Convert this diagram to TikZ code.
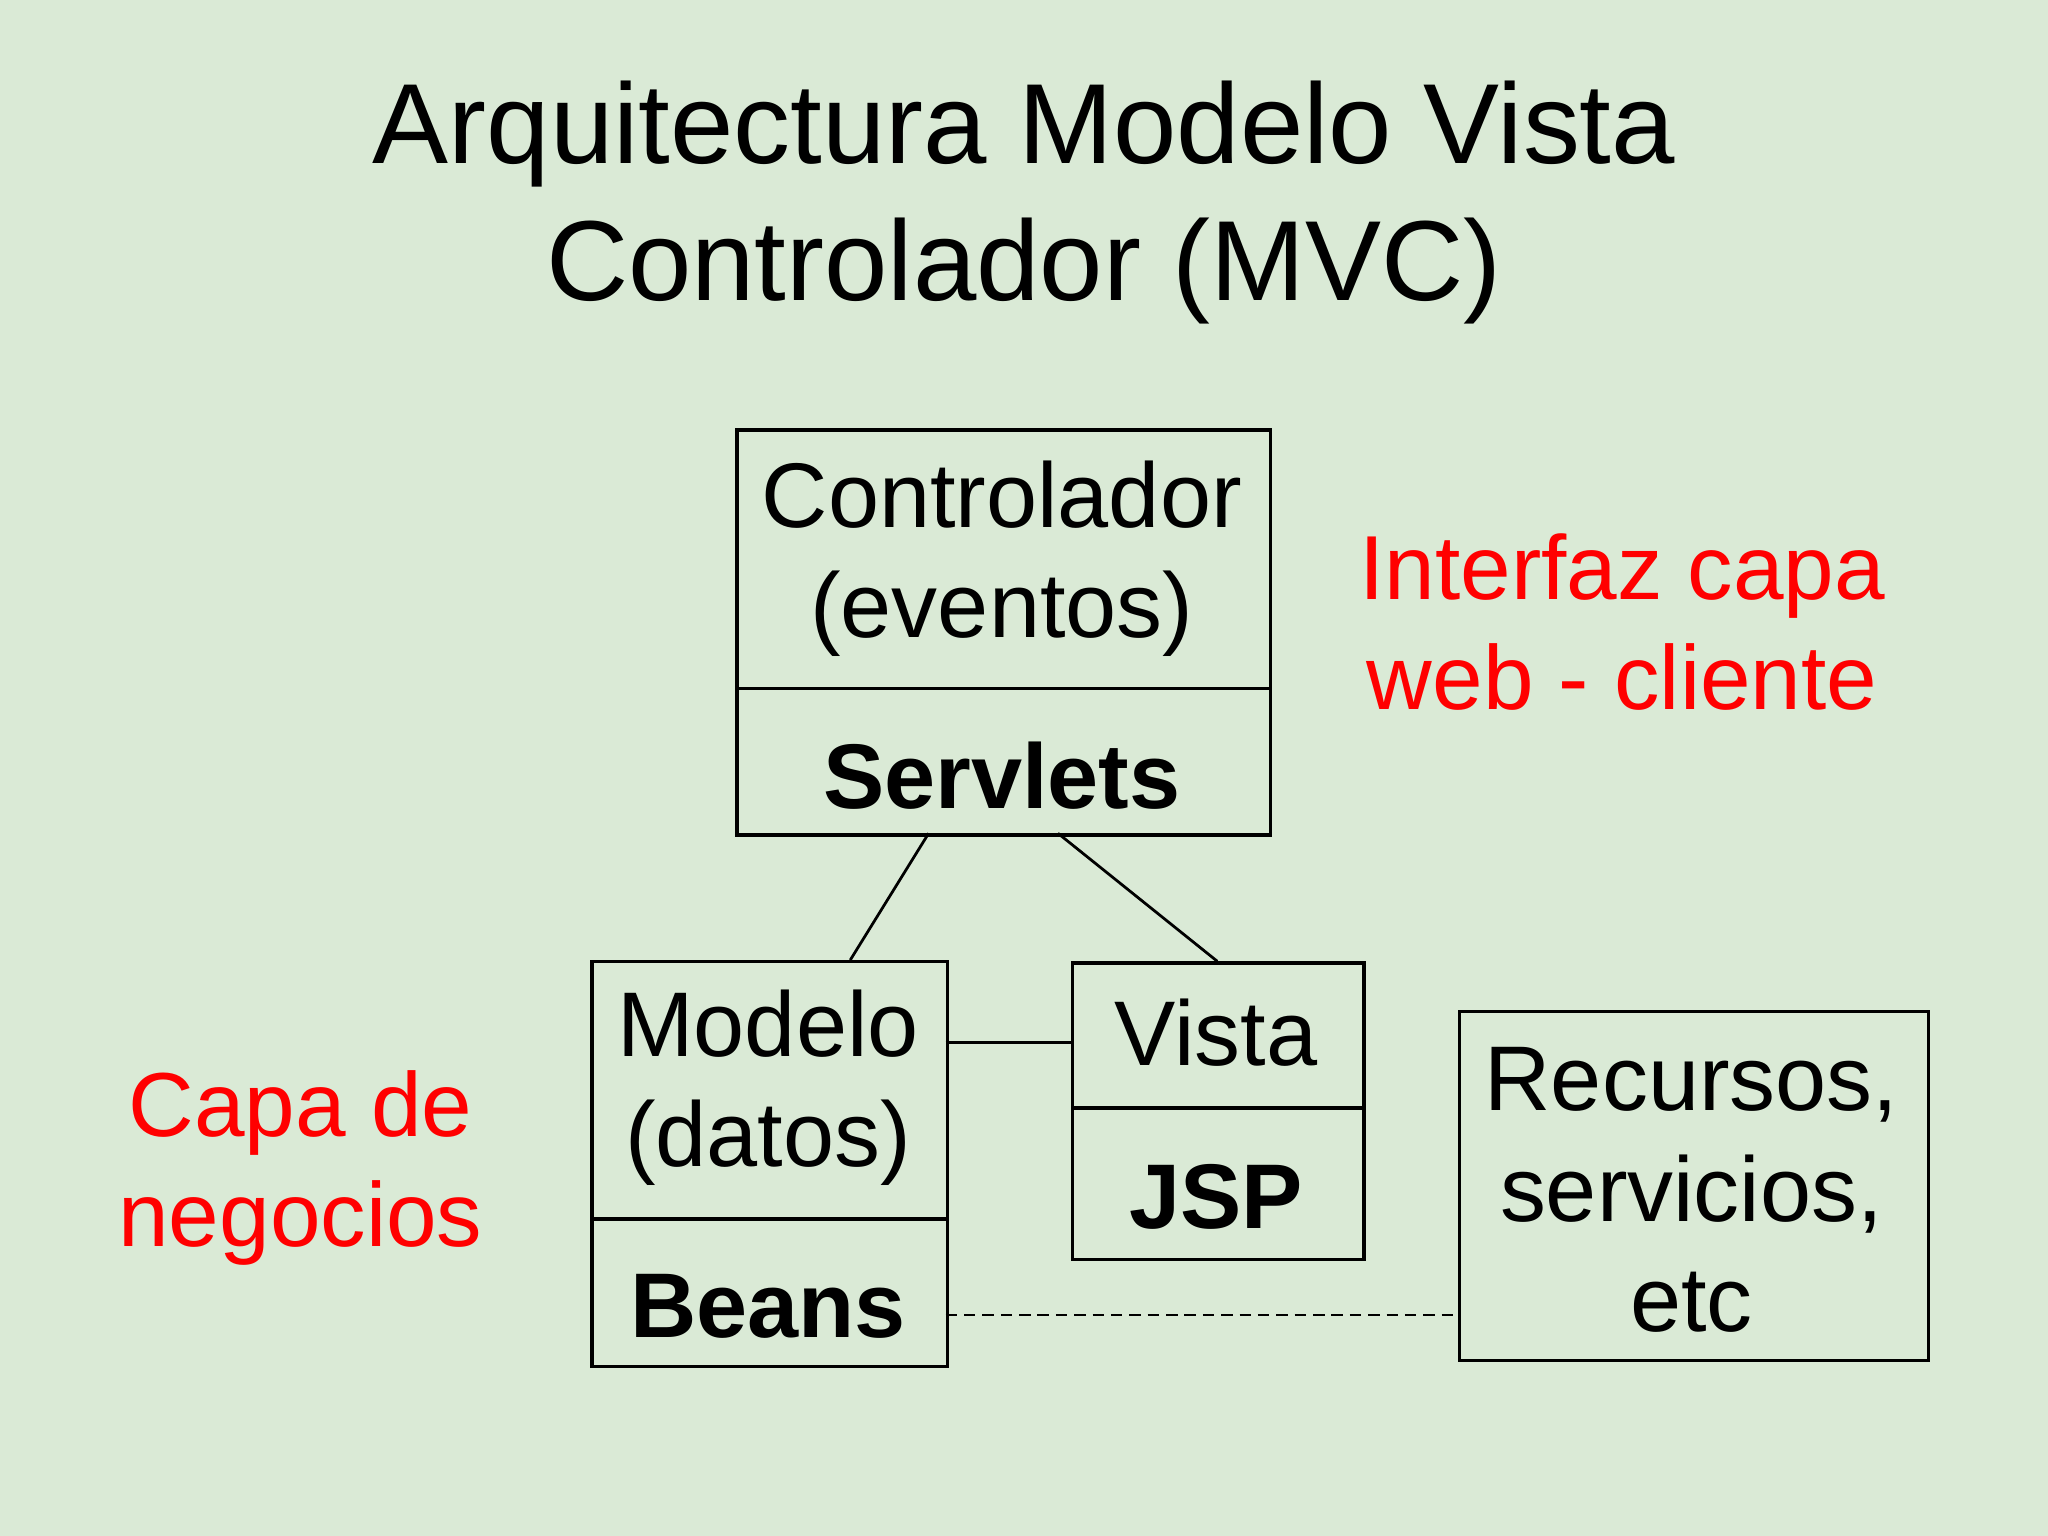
\documentclass[tikz,border=0pt]{standalone}
\usepackage{fontspec}
\setmainfont{Liberation Sans}
\begin{document}
\begin{tikzpicture}[x=0.01cm,y=-0.01cm,
  box/.style={draw,line width=0.7pt,anchor=north west,inner sep=0pt},
  lbl/.style={font=\fontsize{20}{24}\selectfont,align=center},
  blbl/.style={font=\fontsize{20}{24}\selectfont\bfseries},
  red/.style={font=\fontsize{19.8}{24}\selectfont,align=center,text=red}]
\fill[fill={rgb,255:red,218;green,234;blue,214}] (0,0) rectangle (1568,1176);
\useasboundingbox (0,0) rectangle (1568,1176);
\node[font=\fontsize{24.8}{29.8}\selectfont,align=center] (title) at (784,155) {Arquitectura Modelo Vista\\Controlador (MVC)};
% controller
\node[box,minimum width=4.08cm,minimum height=1.98cm] (ctop) at (563,328) {};
\node[box,minimum width=4.08cm,minimum height=1.12cm] (cbot) at (563,526) {};
\node[lbl] (ct) at (767,428) {Controlador\\(eventos)};
\node[blbl] (cb) at (767,594) {Servlets};
% model
\node[box,minimum width=2.72cm,minimum height=1.97cm] (mtop) at (452,735) {};
\node[box,minimum width=2.72cm,minimum height=1.13cm] (mbot) at (452,932) {};
\node[lbl] (mt) at (588,833) {Modelo\\(datos)};
\node[blbl] (mb) at (588,1000) {Beans};
% view
\node[box,minimum width=2.23cm,minimum height=1.11cm] (vtop) at (820,736) {};
\node[box,minimum width=2.23cm,minimum height=1.16cm] (vbot) at (820,847) {};
\node[lbl] (vt) at (931,791) {Vista};
\node[blbl] (vb) at (931,916) {JSP};
% resources
\node[box,minimum width=3.59cm,minimum height=2.67cm] (res) at (1116,773) {};
\node[lbl] (rt) at (1295,911) {Recursos,\\servicios,\\etc};
% red labels
\node[red] (r1) at (1242,476) {Interfaz capa\\web - cliente};
\node[red] (r2) at (230,894) {Capa de\\negocios};
% connectors
\coordinate (a1) at (711,638); \coordinate (a2) at (651,735);
\coordinate (b1) at (810,638); \coordinate (b2) at (932,736);
\coordinate (c1) at (724,798); \coordinate (c2) at (820,798);
\coordinate (d1) at (724,1007); \coordinate (d2) at (1116,1007);
\draw[line width=0.6pt] (a1) -- (a2);
\draw[line width=0.6pt] (b1) -- (b2);
\draw[line width=0.6pt] (c1) -- (c2);
\draw[line width=0.5pt,dash pattern=on 2.5pt off 1.5pt] (d1) -- (d2);
\end{tikzpicture}
\end{document}
